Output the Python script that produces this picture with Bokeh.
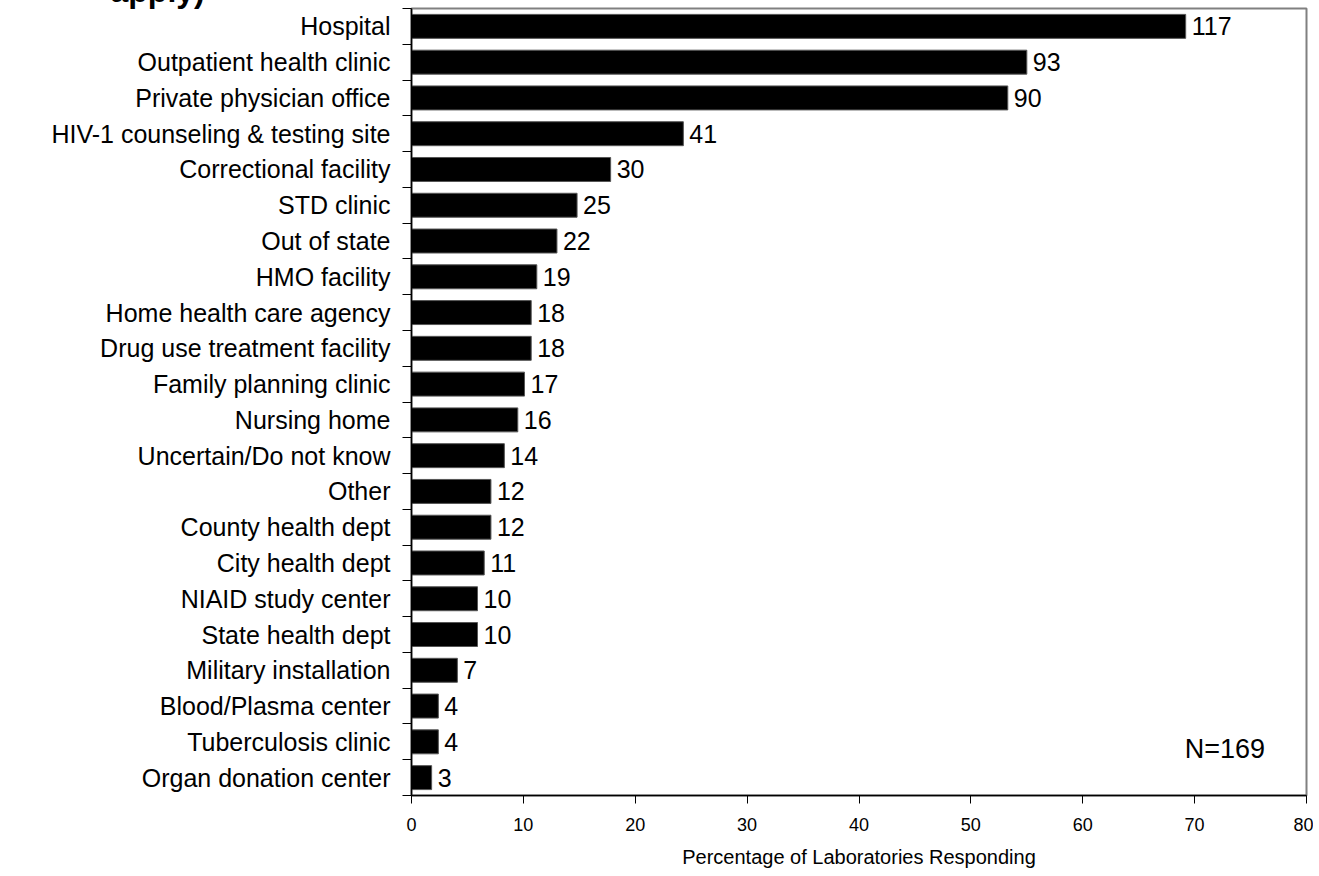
from bokeh.plotting import figure
from bokeh.models import (ColumnDataSource, Range1d, LinearAxis, FixedTicker,
                          Label, Title)
from bokeh.embed import file_html
from bokeh.resources import INLINE
from bokeh.core.properties import value

categories = ["Hospital", "Outpatient health clinic", "Private physician office",
              "HIV-1 counseling & testing site", "Correctional facility",
              "STD clinic", "Out of state", "HMO facility",
              "Home health care agency", "Drug use treatment facility",
              "Family planning clinic", "Nursing home", "Uncertain/Do not know",
              "Other", "County health dept", "City health dept",
              "NIAID study center", "State health dept", "Military installation",
              "Blood/Plasma center", "Tuberculosis clinic",
              "Organ donation center"]
counts = [117, 93, 90, 41, 30, 25, 22, 19, 18, 18, 17, 16, 14, 12, 12, 11,
          10, 10, 7, 4, 4, 3]
percents = [69.2, 55.0, 53.3, 24.3, 17.8, 14.8, 13.0, 11.2, 10.7, 10.7, 10.1,
            9.5, 8.3, 7.1, 7.1, 6.5, 5.9, 5.9, 4.1, 2.4, 2.4, 1.8]
x_ticks = [0, 10, 20, 30, 40, 50, 60, 70, 80]
n_label = "N=169"
title_tail = "apply)"
x_title = "Percentage of Laboratories Responding"

n = len(categories)
ypos = [n - i for i in range(n)]

src = ColumnDataSource(dict(y=ypos, val=percents,
                            lab=[str(c) for c in counts]))

FONT = "Liberation Sans"

p = figure(width=1313, height=900, output_backend="svg", toolbar_location=None,
           x_range=Range1d(0, 80), y_range=Range1d(0.5, n + 0.5),
           x_axis_type=None, y_axis_type=None,
           min_border_left=411, min_border_right=7, min_border_top=0,
           min_border_bottom=69)
p.margin = (-30, 0, 0, 0)
p.title = Title(text=title_tail, align="left", offset=-301, standoff=0,
                vertical_align="bottom", text_font=FONT,
                text_font_style="bold", text_font_size="32px",
                text_color="black")
p.xgrid.visible = False
p.ygrid.visible = False
p.outline_line_color = "#808080"
p.outline_line_width = 2
p.background_fill_color = "white"
p.border_fill_color = "white"

p.hbar(y="y", left=0, right="val", height=0.67, source=src,
       fill_color="black", line_color="#555555", line_width=1)

p.text(x="val", y="y", text="lab", source=src, x_offset=6,
       text_baseline="middle", text_align="left",
       text_font=value(FONT), text_font_size="25px", text_color="black")

# Y axis: labels at row centres, tick marks at row boundaries
yaxis = LinearAxis(
    ticker=FixedTicker(ticks=ypos, minor_ticks=[k + 0.5 for k in range(n + 1)]),
    major_label_overrides={y: c for y, c in zip(ypos, categories)},
    major_tick_out=0, major_tick_in=0,
    minor_tick_out=9, minor_tick_in=0,
    minor_tick_line_color="black",
    axis_line_color="black", axis_line_width=1.5,
    major_label_standoff=12,
    major_label_text_font=FONT, major_label_text_font_size="25px",
    major_label_text_color="black")
p.add_layout(yaxis, "left")

xaxis = LinearAxis(
    ticker=FixedTicker(ticks=x_ticks, minor_ticks=[]),
    major_tick_out=8, major_tick_in=0,
    axis_line_color="black", axis_line_width=1.5,
    major_tick_line_color="black",
    major_label_standoff=14,
    major_label_text_font=FONT, major_label_text_font_size="18px",
    major_label_text_color="black",
    axis_label=x_title, axis_label_standoff=12,
    axis_label_text_font=FONT, axis_label_text_font_size="20px",
    axis_label_text_font_style="normal", axis_label_text_color="black")
p.add_layout(xaxis, "below")

p.add_layout(Label(x=76.3, y=1.81, text=n_label, text_align="right",
                   text_baseline="middle", text_font=FONT,
                   text_font_size="27px", text_color="black"))

open("out.html", "w").write(file_html(p, INLINE))
